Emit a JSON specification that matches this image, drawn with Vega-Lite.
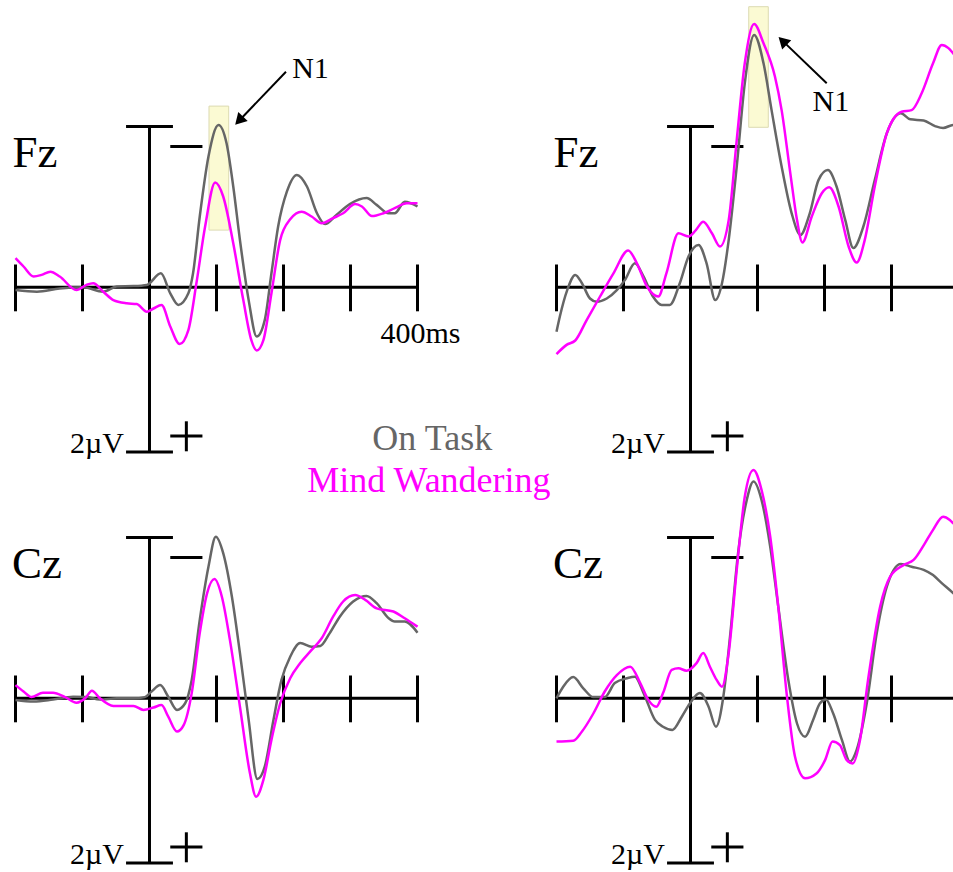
{
"$schema": "https://vega.github.io/schema/vega-lite/v6.json",
"padding": 0,
"background": "white",
"columns": 2,
"spacing": 0,
"bounds": "flush",
"config": {"view": {"stroke": null}, "concat": {"spacing": 0}},
"datasets": {
"frame": [
{"t":-200,"t2":400,"v":0,"v2":0},
{"t":0,"t2":0,"v":-4.02,"v2":4.12},
{"t":-35,"t2":35,"v":-4.02,"v2":-4.02},
{"t":-35,"t2":35,"v":4.12,"v2":4.12},
{"t":-200,"t2":-200,"v":-0.57,"v2":0.6},
{"t":-100,"t2":-100,"v":-0.57,"v2":0.6},
{"t":100,"t2":100,"v":-0.57,"v2":0.6},
{"t":200,"t2":200,"v":-0.57,"v2":0.6},
{"t":300,"t2":300,"v":-0.57,"v2":0.6},
{"t":400,"t2":400,"v":-0.57,"v2":0.6},
{"t":31,"t2":79,"v":-3.52,"v2":-3.52},
{"t":31,"t2":79,"v":3.72,"v2":3.72},
{"t":55,"t2":55,"v":3.35,"v2":4.1}
],
"windows": [
{"panel":"TL","t":88.8,"t2":118.2,"v":-4.53,"v2":-1.43},
{"panel":"TR","t":86.9,"t2":116.1,"v":-7.015,"v2":-4.0}
],
"arrows": [
{"panel":"TL","t":203.7,"v":-5.39,"t2":133.7,"v2":-4.165},
{"panel":"TR","t":203.3,"v":-5.1,"t2":137.5,"v2":-6.16}
],
"labels": [
{"panel":"TL","kind":"electrode","label":"Fz","t":-171,"v":-3.0},
{"panel":"TR","kind":"electrode","label":"Fz","t":-171,"v":-3.0},
{"panel":"BL","kind":"electrode","label":"Cz","t":-168,"v":-3.02},
{"panel":"BR","kind":"electrode","label":"Cz","t":-168,"v":-3.02},
{"panel":"TL","kind":"small","label":"2µV","t":-78.5,"v":4.15},
{"panel":"TR","kind":"small","label":"2µV","t":-78.5,"v":4.15},
{"panel":"BL","kind":"small","label":"2µV","t":-78.5,"v":4.15},
{"panel":"BR","kind":"small","label":"2µV","t":-78.5,"v":4.15},
{"panel":"TL","kind":"small","label":"400ms","t":404.5,"v":1.39},
{"panel":"TL","kind":"small","label":"N1","t":240.3,"v":-5.23},
{"panel":"TR","kind":"small","label":"N1","t":209.4,"v":-4.415},
{"panel":"TL","kind":"legend","label":"On Task","t":422,"v":4.07},
{"panel":"BL","kind":"legend","label":"Mind Wandering","t":417,"v":-5.15}
],
"erp": [
{"panel":"TL","condition":"On Task","t":-200,"v":0.07},{"panel":"TL","condition":"On Task","t":-168,"v":0.11},{"panel":"TL","condition":"On Task","t":-134,"v":0.03},{"panel":"TL","condition":"On Task","t":-99,"v":0},{"panel":"TL","condition":"On Task","t":-69,"v":0.11},{"panel":"TL","condition":"On Task","t":-49,"v":-0.02},{"panel":"TL","condition":"On Task","t":-24,"v":-0.03},{"panel":"TL","condition":"On Task","t":-4,"v":-0.06},{"panel":"TL","condition":"On Task","t":17,"v":-0.35},{"panel":"TL","condition":"On Task","t":31,"v":0.15},{"panel":"TL","condition":"On Task","t":43,"v":0.44},{"panel":"TL","condition":"On Task","t":58,"v":0.15},{"panel":"TL","condition":"On Task","t":65,"v":-0.35},{"panel":"TL","condition":"On Task","t":75,"v":-1.77},{"panel":"TL","condition":"On Task","t":88,"v":-3.27},{"panel":"TL","condition":"On Task","t":103,"v":-4.06},{"panel":"TL","condition":"On Task","t":115,"v":-3.6},{"panel":"TL","condition":"On Task","t":125,"v":-2.52},{"panel":"TL","condition":"On Task","t":135,"v":-1.18},{"panel":"TL","condition":"On Task","t":148,"v":0.32},{"panel":"TL","condition":"On Task","t":160,"v":1.23},{"panel":"TL","condition":"On Task","t":172,"v":0.82},{"panel":"TL","condition":"On Task","t":182,"v":-0.35},{"panel":"TL","condition":"On Task","t":192,"v":-1.52},{"panel":"TL","condition":"On Task","t":205,"v":-2.39},{"panel":"TL","condition":"On Task","t":220,"v":-2.81},{"panel":"TL","condition":"On Task","t":235,"v":-2.52},{"panel":"TL","condition":"On Task","t":250,"v":-1.85},{"panel":"TL","condition":"On Task","t":262,"v":-1.58},{"panel":"TL","condition":"On Task","t":279,"v":-1.81},{"panel":"TL","condition":"On Task","t":299,"v":-2.08},{"panel":"TL","condition":"On Task","t":324,"v":-2.23},{"panel":"TL","condition":"On Task","t":339,"v":-2.06},{"panel":"TL","condition":"On Task","t":357,"v":-1.85},{"panel":"TL","condition":"On Task","t":366,"v":-1.85},{"panel":"TL","condition":"On Task","t":381,"v":-2.14},{"panel":"TL","condition":"On Task","t":400,"v":-2.02},
{"panel":"TL","condition":"Mind Wandering","t":-200,"v":-0.73},{"panel":"TL","condition":"Mind Wandering","t":-188,"v":-0.52},{"panel":"TL","condition":"Mind Wandering","t":-173,"v":-0.27},{"panel":"TL","condition":"Mind Wandering","t":-161,"v":-0.31},{"panel":"TL","condition":"Mind Wandering","t":-148,"v":-0.39},{"panel":"TL","condition":"Mind Wandering","t":-134,"v":-0.27},{"panel":"TL","condition":"Mind Wandering","t":-109,"v":0.07},{"panel":"TL","condition":"Mind Wandering","t":-94,"v":-0.06},{"panel":"TL","condition":"Mind Wandering","t":-84,"v":-0.1},{"panel":"TL","condition":"Mind Wandering","t":-69,"v":0.11},{"panel":"TL","condition":"Mind Wandering","t":-54,"v":0.32},{"panel":"TL","condition":"Mind Wandering","t":-34,"v":0.4},{"panel":"TL","condition":"Mind Wandering","t":-19,"v":0.42},{"panel":"TL","condition":"Mind Wandering","t":-4,"v":0.61},{"panel":"TL","condition":"Mind Wandering","t":6,"v":0.53},{"panel":"TL","condition":"Mind Wandering","t":18,"v":0.44},{"panel":"TL","condition":"Mind Wandering","t":31,"v":0.98},{"panel":"TL","condition":"Mind Wandering","t":45,"v":1.42},{"panel":"TL","condition":"Mind Wandering","t":58,"v":1.07},{"panel":"TL","condition":"Mind Wandering","t":70,"v":-0.1},{"panel":"TL","condition":"Mind Wandering","t":83,"v":-1.52},{"panel":"TL","condition":"Mind Wandering","t":98,"v":-2.62},{"panel":"TL","condition":"Mind Wandering","t":110,"v":-2.27},{"panel":"TL","condition":"Mind Wandering","t":125,"v":-1.1},{"panel":"TL","condition":"Mind Wandering","t":140,"v":0.32},{"panel":"TL","condition":"Mind Wandering","t":152,"v":1.32},{"panel":"TL","condition":"Mind Wandering","t":160,"v":1.58},{"panel":"TL","condition":"Mind Wandering","t":170,"v":1.32},{"panel":"TL","condition":"Mind Wandering","t":182,"v":0.15},{"panel":"TL","condition":"Mind Wandering","t":195,"v":-1.18},{"panel":"TL","condition":"Mind Wandering","t":210,"v":-1.7},{"panel":"TL","condition":"Mind Wandering","t":227,"v":-1.89},{"panel":"TL","condition":"Mind Wandering","t":242,"v":-1.77},{"panel":"TL","condition":"Mind Wandering","t":257,"v":-1.6},{"panel":"TL","condition":"Mind Wandering","t":274,"v":-1.73},{"panel":"TL","condition":"Mind Wandering","t":289,"v":-1.85},{"panel":"TL","condition":"Mind Wandering","t":307,"v":-2.08},{"panel":"TL","condition":"Mind Wandering","t":317,"v":-2.02},{"panel":"TL","condition":"Mind Wandering","t":332,"v":-1.78},{"panel":"TL","condition":"Mind Wandering","t":349,"v":-1.85},{"panel":"TL","condition":"Mind Wandering","t":366,"v":-1.98},{"panel":"TL","condition":"Mind Wandering","t":384,"v":-2.1},{"panel":"TL","condition":"Mind Wandering","t":400,"v":-2.1},
{"panel":"TR","condition":"On Task","t":-200,"v":1.11},{"panel":"TR","condition":"On Task","t":-195,"v":0.73},{"panel":"TR","condition":"On Task","t":-184,"v":0.07},{"panel":"TR","condition":"On Task","t":-172,"v":-0.31},{"panel":"TR","condition":"On Task","t":-162,"v":-0.1},{"panel":"TR","condition":"On Task","t":-150,"v":0.28},{"panel":"TR","condition":"On Task","t":-140,"v":0.36},{"panel":"TR","condition":"On Task","t":-125,"v":0.28},{"panel":"TR","condition":"On Task","t":-110,"v":0.07},{"panel":"TR","condition":"On Task","t":-98,"v":-0.18},{"panel":"TR","condition":"On Task","t":-83,"v":-0.6},{"panel":"TR","condition":"On Task","t":-70,"v":-0.27},{"panel":"TR","condition":"On Task","t":-56,"v":0.23},{"panel":"TR","condition":"On Task","t":-43,"v":0.44},{"panel":"TR","condition":"On Task","t":-31,"v":0.44},{"panel":"TR","condition":"On Task","t":-16,"v":-0.1},{"panel":"TR","condition":"On Task","t":-3,"v":-0.77},{"panel":"TR","condition":"On Task","t":12,"v":-1.06},{"panel":"TR","condition":"On Task","t":24,"v":-0.6},{"panel":"TR","condition":"On Task","t":37,"v":0.32},{"panel":"TR","condition":"On Task","t":47,"v":-0.1},{"panel":"TR","condition":"On Task","t":57,"v":-1.18},{"panel":"TR","condition":"On Task","t":69,"v":-3.02},{"panel":"TR","condition":"On Task","t":81,"v":-5.1},{"panel":"TR","condition":"On Task","t":95,"v":-6.31},{"panel":"TR","condition":"On Task","t":109,"v":-5.6},{"panel":"TR","condition":"On Task","t":121,"v":-4.43},{"panel":"TR","condition":"On Task","t":136,"v":-3.02},{"panel":"TR","condition":"On Task","t":151,"v":-1.85},{"panel":"TR","condition":"On Task","t":164,"v":-1.31},{"panel":"TR","condition":"On Task","t":178,"v":-1.85},{"panel":"TR","condition":"On Task","t":191,"v":-2.68},{"panel":"TR","condition":"On Task","t":205,"v":-2.93},{"panel":"TR","condition":"On Task","t":218,"v":-2.52},{"panel":"TR","condition":"On Task","t":231,"v":-1.68},{"panel":"TR","condition":"On Task","t":243,"v":-0.98},{"panel":"TR","condition":"On Task","t":258,"v":-1.52},{"panel":"TR","condition":"On Task","t":275,"v":-2.68},{"panel":"TR","condition":"On Task","t":293,"v":-3.85},{"panel":"TR","condition":"On Task","t":314,"v":-4.35},{"panel":"TR","condition":"On Task","t":328,"v":-4.2},{"panel":"TR","condition":"On Task","t":348,"v":-4.17},{"panel":"TR","condition":"On Task","t":365,"v":-4.03},{"panel":"TR","condition":"On Task","t":377,"v":-3.98},{"panel":"TR","condition":"On Task","t":392,"v":-4.06},{"panel":"TR","condition":"On Task","t":400,"v":-4.0},
{"panel":"TR","condition":"Mind Wandering","t":-200,"v":1.67},{"panel":"TR","condition":"Mind Wandering","t":-185,"v":1.44},{"panel":"TR","condition":"Mind Wandering","t":-172,"v":1.33},{"panel":"TR","condition":"Mind Wandering","t":-155,"v":0.82},{"panel":"TR","condition":"Mind Wandering","t":-135,"v":0.23},{"panel":"TR","condition":"Mind Wandering","t":-115,"v":-0.35},{"panel":"TR","condition":"Mind Wandering","t":-93,"v":-0.92},{"panel":"TR","condition":"Mind Wandering","t":-80,"v":-0.6},{"panel":"TR","condition":"Mind Wandering","t":-65,"v":-0.02},{"panel":"TR","condition":"Mind Wandering","t":-48,"v":0.23},{"panel":"TR","condition":"Mind Wandering","t":-36,"v":-0.35},{"panel":"TR","condition":"Mind Wandering","t":-18,"v":-1.35},{"panel":"TR","condition":"Mind Wandering","t":-3,"v":-1.27},{"panel":"TR","condition":"Mind Wandering","t":8,"v":-1.43},{"panel":"TR","condition":"Mind Wandering","t":19,"v":-1.64},{"panel":"TR","condition":"Mind Wandering","t":32,"v":-1.35},{"panel":"TR","condition":"Mind Wandering","t":44,"v":-1.02},{"panel":"TR","condition":"Mind Wandering","t":57,"v":-1.68},{"panel":"TR","condition":"Mind Wandering","t":69,"v":-3.68},{"panel":"TR","condition":"Mind Wandering","t":81,"v":-5.6},{"panel":"TR","condition":"Mind Wandering","t":95,"v":-6.58},{"panel":"TR","condition":"Mind Wandering","t":109,"v":-6.1},{"panel":"TR","condition":"Mind Wandering","t":126,"v":-5.27},{"panel":"TR","condition":"Mind Wandering","t":136,"v":-4.43},{"panel":"TR","condition":"Mind Wandering","t":149,"v":-2.85},{"panel":"TR","condition":"Mind Wandering","t":159,"v":-1.68},{"panel":"TR","condition":"Mind Wandering","t":167,"v":-1.12},{"panel":"TR","condition":"Mind Wandering","t":181,"v":-1.77},{"panel":"TR","condition":"Mind Wandering","t":196,"v":-2.35},{"panel":"TR","condition":"Mind Wandering","t":207,"v":-2.5},{"panel":"TR","condition":"Mind Wandering","t":221,"v":-2.02},{"panel":"TR","condition":"Mind Wandering","t":236,"v":-1.02},{"panel":"TR","condition":"Mind Wandering","t":248,"v":-0.62},{"panel":"TR","condition":"Mind Wandering","t":260,"v":-1.18},{"panel":"TR","condition":"Mind Wandering","t":275,"v":-2.52},{"panel":"TR","condition":"Mind Wandering","t":293,"v":-3.85},{"panel":"TR","condition":"Mind Wandering","t":315,"v":-4.39},{"panel":"TR","condition":"Mind Wandering","t":330,"v":-4.43},{"panel":"TR","condition":"Mind Wandering","t":345,"v":-4.85},{"panel":"TR","condition":"Mind Wandering","t":362,"v":-5.6},{"panel":"TR","condition":"Mind Wandering","t":375,"v":-6.06},{"panel":"TR","condition":"Mind Wandering","t":385,"v":-5.98},{"panel":"TR","condition":"Mind Wandering","t":392,"v":-5.85},{"panel":"TR","condition":"Mind Wandering","t":400,"v":-5.7},
{"panel":"BL","condition":"On Task","t":-200,"v":0.04},{"panel":"BL","condition":"On Task","t":-173,"v":0.08},{"panel":"BL","condition":"On Task","t":-144,"v":0.03},{"panel":"BL","condition":"On Task","t":-114,"v":-0.04},{"panel":"BL","condition":"On Task","t":-94,"v":-0.03},{"panel":"BL","condition":"On Task","t":-74,"v":0.03},{"panel":"BL","condition":"On Task","t":-49,"v":0},{"panel":"BL","condition":"On Task","t":-24,"v":0},{"panel":"BL","condition":"On Task","t":-7,"v":-0.03},{"panel":"BL","condition":"On Task","t":3,"v":-0.17},{"panel":"BL","condition":"On Task","t":16,"v":-0.33},{"panel":"BL","condition":"On Task","t":28,"v":-0.04},{"panel":"BL","condition":"On Task","t":41,"v":0.29},{"panel":"BL","condition":"On Task","t":53,"v":0.13},{"panel":"BL","condition":"On Task","t":63,"v":-0.46},{"panel":"BL","condition":"On Task","t":75,"v":-1.96},{"panel":"BL","condition":"On Task","t":88,"v":-3.29},{"panel":"BL","condition":"On Task","t":99,"v":-4.04},{"panel":"BL","condition":"On Task","t":110,"v":-3.63},{"panel":"BL","condition":"On Task","t":123,"v":-2.54},{"panel":"BL","condition":"On Task","t":135,"v":-1.13},{"panel":"BL","condition":"On Task","t":148,"v":0.54},{"panel":"BL","condition":"On Task","t":161,"v":2.02},{"panel":"BL","condition":"On Task","t":172,"v":1.71},{"panel":"BL","condition":"On Task","t":185,"v":0.54},{"panel":"BL","condition":"On Task","t":197,"v":-0.46},{"panel":"BL","condition":"On Task","t":210,"v":-1.04},{"panel":"BL","condition":"On Task","t":225,"v":-1.38},{"panel":"BL","condition":"On Task","t":242,"v":-1.29},{"panel":"BL","condition":"On Task","t":255,"v":-1.31},{"panel":"BL","condition":"On Task","t":269,"v":-1.63},{"panel":"BL","condition":"On Task","t":284,"v":-2.04},{"panel":"BL","condition":"On Task","t":304,"v":-2.42},{"panel":"BL","condition":"On Task","t":324,"v":-2.56},{"panel":"BL","condition":"On Task","t":339,"v":-2.38},{"panel":"BL","condition":"On Task","t":357,"v":-2.0},{"panel":"BL","condition":"On Task","t":366,"v":-1.92},{"panel":"BL","condition":"On Task","t":381,"v":-1.92},{"panel":"BL","condition":"On Task","t":400,"v":-1.64},
{"panel":"BL","condition":"Mind Wandering","t":-200,"v":-0.33},{"panel":"BL","condition":"Mind Wandering","t":-188,"v":-0.17},{"panel":"BL","condition":"Mind Wandering","t":-176,"v":-0.03},{"panel":"BL","condition":"Mind Wandering","t":-159,"v":-0.14},{"panel":"BL","condition":"Mind Wandering","t":-144,"v":-0.14},{"panel":"BL","condition":"Mind Wandering","t":-126,"v":-0.03},{"panel":"BL","condition":"Mind Wandering","t":-109,"v":0.11},{"panel":"BL","condition":"Mind Wandering","t":-96,"v":0},{"panel":"BL","condition":"Mind Wandering","t":-86,"v":-0.19},{"panel":"BL","condition":"Mind Wandering","t":-74,"v":0},{"panel":"BL","condition":"Mind Wandering","t":-54,"v":0.19},{"panel":"BL","condition":"Mind Wandering","t":-24,"v":0.19},{"panel":"BL","condition":"Mind Wandering","t":-9,"v":0.29},{"panel":"BL","condition":"Mind Wandering","t":6,"v":0.23},{"panel":"BL","condition":"Mind Wandering","t":18,"v":0.17},{"panel":"BL","condition":"Mind Wandering","t":28,"v":0.46},{"panel":"BL","condition":"Mind Wandering","t":41,"v":0.83},{"panel":"BL","condition":"Mind Wandering","t":51,"v":0.67},{"panel":"BL","condition":"Mind Wandering","t":63,"v":-0.13},{"panel":"BL","condition":"Mind Wandering","t":75,"v":-1.63},{"panel":"BL","condition":"Mind Wandering","t":86,"v":-2.63},{"panel":"BL","condition":"Mind Wandering","t":97,"v":-2.98},{"panel":"BL","condition":"Mind Wandering","t":108,"v":-2.54},{"panel":"BL","condition":"Mind Wandering","t":120,"v":-1.46},{"panel":"BL","condition":"Mind Wandering","t":135,"v":0.21},{"panel":"BL","condition":"Mind Wandering","t":150,"v":1.88},{"panel":"BL","condition":"Mind Wandering","t":159,"v":2.46},{"panel":"BL","condition":"Mind Wandering","t":170,"v":2.04},{"panel":"BL","condition":"Mind Wandering","t":182,"v":1.04},{"panel":"BL","condition":"Mind Wandering","t":195,"v":0.13},{"panel":"BL","condition":"Mind Wandering","t":210,"v":-0.5},{"panel":"BL","condition":"Mind Wandering","t":225,"v":-0.88},{"panel":"BL","condition":"Mind Wandering","t":242,"v":-1.21},{"panel":"BL","condition":"Mind Wandering","t":257,"v":-1.5},{"panel":"BL","condition":"Mind Wandering","t":274,"v":-2.04},{"panel":"BL","condition":"Mind Wandering","t":289,"v":-2.42},{"panel":"BL","condition":"Mind Wandering","t":307,"v":-2.58},{"panel":"BL","condition":"Mind Wandering","t":322,"v":-2.46},{"panel":"BL","condition":"Mind Wandering","t":339,"v":-2.25},{"panel":"BL","condition":"Mind Wandering","t":364,"v":-2.17},{"panel":"BL","condition":"Mind Wandering","t":381,"v":-2.0},{"panel":"BL","condition":"Mind Wandering","t":400,"v":-1.79},
{"panel":"BR","condition":"On Task","t":-200,"v":0},{"panel":"BR","condition":"On Task","t":-190,"v":-0.29},{"panel":"BR","condition":"On Task","t":-175,"v":-0.53},{"panel":"BR","condition":"On Task","t":-160,"v":-0.25},{"panel":"BR","condition":"On Task","t":-145,"v":-0.03},{"panel":"BR","condition":"On Task","t":-128,"v":-0.03},{"panel":"BR","condition":"On Task","t":-113,"v":-0.38},{"panel":"BR","condition":"On Task","t":-95,"v":-0.5},{"panel":"BR","condition":"On Task","t":-83,"v":-0.54},{"panel":"BR","condition":"On Task","t":-70,"v":-0.13},{"panel":"BR","condition":"On Task","t":-53,"v":0.54},{"panel":"BR","condition":"On Task","t":-41,"v":0.71},{"panel":"BR","condition":"On Task","t":-27,"v":0.79},{"panel":"BR","condition":"On Task","t":-13,"v":0.46},{"panel":"BR","condition":"On Task","t":-1,"v":0.13},{"panel":"BR","condition":"On Task","t":14,"v":-0.13},{"panel":"BR","condition":"On Task","t":27,"v":0.21},{"panel":"BR","condition":"On Task","t":38,"v":0.71},{"panel":"BR","condition":"On Task","t":49,"v":-0.04},{"panel":"BR","condition":"On Task","t":59,"v":-1.54},{"panel":"BR","condition":"On Task","t":71,"v":-3.63},{"panel":"BR","condition":"On Task","t":84,"v":-4.96},{"panel":"BR","condition":"On Task","t":94,"v":-5.42},{"panel":"BR","condition":"On Task","t":106,"v":-4.96},{"panel":"BR","condition":"On Task","t":119,"v":-3.79},{"panel":"BR","condition":"On Task","t":131,"v":-2.29},{"panel":"BR","condition":"On Task","t":146,"v":-0.46},{"panel":"BR","condition":"On Task","t":159,"v":0.63},{"panel":"BR","condition":"On Task","t":171,"v":0.96},{"panel":"BR","condition":"On Task","t":183,"v":0.54},{"panel":"BR","condition":"On Task","t":193,"v":0.13},{"panel":"BR","condition":"On Task","t":202,"v":0.03},{"panel":"BR","condition":"On Task","t":213,"v":0.38},{"panel":"BR","condition":"On Task","t":226,"v":1.04},{"panel":"BR","condition":"On Task","t":238,"v":1.58},{"panel":"BR","condition":"On Task","t":248,"v":1.29},{"panel":"BR","condition":"On Task","t":263,"v":0.13},{"panel":"BR","condition":"On Task","t":278,"v":-1.63},{"panel":"BR","condition":"On Task","t":293,"v":-2.79},{"panel":"BR","condition":"On Task","t":314,"v":-3.36},{"panel":"BR","condition":"On Task","t":330,"v":-3.29},{"panel":"BR","condition":"On Task","t":348,"v":-3.21},{"panel":"BR","condition":"On Task","t":362,"v":-3.08},{"panel":"BR","condition":"On Task","t":375,"v":-2.88},{"panel":"BR","condition":"On Task","t":392,"v":-2.63},{"panel":"BR","condition":"On Task","t":400,"v":-2.5},
{"panel":"BR","condition":"Mind Wandering","t":-200,"v":1.08},{"panel":"BR","condition":"Mind Wandering","t":-175,"v":1.06},{"panel":"BR","condition":"Mind Wandering","t":-162,"v":0.83},{"panel":"BR","condition":"Mind Wandering","t":-145,"v":0.38},{"panel":"BR","condition":"Mind Wandering","t":-128,"v":-0.17},{"panel":"BR","condition":"Mind Wandering","t":-110,"v":-0.58},{"panel":"BR","condition":"Mind Wandering","t":-90,"v":-0.79},{"panel":"BR","condition":"Mind Wandering","t":-75,"v":-0.38},{"panel":"BR","condition":"Mind Wandering","t":-63,"v":0.04},{"panel":"BR","condition":"Mind Wandering","t":-51,"v":0.21},{"panel":"BR","condition":"Mind Wandering","t":-41,"v":-0.13},{"panel":"BR","condition":"Mind Wandering","t":-28,"v":-0.71},{"panel":"BR","condition":"Mind Wandering","t":-18,"v":-0.75},{"panel":"BR","condition":"Mind Wandering","t":-6,"v":-0.69},{"panel":"BR","condition":"Mind Wandering","t":9,"v":-0.88},{"panel":"BR","condition":"Mind Wandering","t":19,"v":-1.13},{"panel":"BR","condition":"Mind Wandering","t":29,"v":-0.79},{"panel":"BR","condition":"Mind Wandering","t":39,"v":-0.46},{"panel":"BR","condition":"Mind Wandering","t":47,"v":-0.29},{"panel":"BR","condition":"Mind Wandering","t":57,"v":-1.13},{"panel":"BR","condition":"Mind Wandering","t":69,"v":-3.21},{"panel":"BR","condition":"Mind Wandering","t":81,"v":-5.04},{"panel":"BR","condition":"Mind Wandering","t":94,"v":-5.71},{"panel":"BR","condition":"Mind Wandering","t":106,"v":-5.21},{"panel":"BR","condition":"Mind Wandering","t":119,"v":-4.04},{"panel":"BR","condition":"Mind Wandering","t":131,"v":-2.29},{"panel":"BR","condition":"Mind Wandering","t":144,"v":-0.04},{"panel":"BR","condition":"Mind Wandering","t":156,"v":1.46},{"panel":"BR","condition":"Mind Wandering","t":171,"v":2.0},{"panel":"BR","condition":"Mind Wandering","t":188,"v":1.88},{"panel":"BR","condition":"Mind Wandering","t":201,"v":1.54},{"panel":"BR","condition":"Mind Wandering","t":212,"v":1.08},{"panel":"BR","condition":"Mind Wandering","t":223,"v":1.17},{"panel":"BR","condition":"Mind Wandering","t":233,"v":1.54},{"panel":"BR","condition":"Mind Wandering","t":242,"v":1.63},{"panel":"BR","condition":"Mind Wandering","t":253,"v":1.04},{"panel":"BR","condition":"Mind Wandering","t":265,"v":-0.46},{"panel":"BR","condition":"Mind Wandering","t":283,"v":-2.29},{"panel":"BR","condition":"Mind Wandering","t":298,"v":-3.04},{"panel":"BR","condition":"Mind Wandering","t":318,"v":-3.33},{"panel":"BR","condition":"Mind Wandering","t":333,"v":-3.46},{"panel":"BR","condition":"Mind Wandering","t":350,"v":-3.88},{"panel":"BR","condition":"Mind Wandering","t":362,"v":-4.21},{"panel":"BR","condition":"Mind Wandering","t":377,"v":-4.54},{"panel":"BR","condition":"Mind Wandering","t":387,"v":-4.46},{"panel":"BR","condition":"Mind Wandering","t":392,"v":-4.38},{"panel":"BR","condition":"Mind Wandering","t":400,"v":-4.25}
]
},
"concat": [
{"width": 480, "height": 464,
 "encoding": {"x": {"field": "t", "type": "quantitative", "scale": {"domain": [-223.13, 493.28], "nice": false, "zero": false}, "axis": null},
              "y": {"field": "v", "type": "quantitative", "scale": {"domain": [-7.1825, 4.4175], "reverse": true, "nice": false, "zero": false}, "axis": null}},
 "layer": [
  {"data": {"name": "windows"}, "transform": [{"filter": "datum.panel === 'TL'"}], "mark": {"type": "rect", "fill": "#FBFAD3", "stroke": "#DCDAB2", "strokeWidth": 1}, "encoding": {"x2": {"field": "t2"}, "y2": {"field": "v2"}}},
  {"data": {"name": "frame"}, "mark": {"type": "rule", "color": "black", "strokeWidth": 3, "clip": true}, "encoding": {"x2": {"field": "t2"}, "y2": {"field": "v2"}}},
  {"data": {"name": "erp"}, "transform": [{"filter": "datum.panel === 'TL'"}], "mark": {"type": "line", "strokeWidth": 2.5, "interpolate": "monotone", "clip": true}, "encoding": {"color": {"field": "condition", "type": "nominal", "scale": {"domain": ["On Task", "Mind Wandering"], "range": ["#666666", "#FF00FF"]}, "legend": null}}},
  {"data": {"name": "arrows"}, "transform": [{"filter": "datum.panel === 'TL'"}], "mark": {"type": "rule", "color": "black", "strokeWidth": 2}, "encoding": {"x2": {"field": "t2"}, "y2": {"field": "v2"}}},
  {"data": {"name": "arrows"}, "transform": [{"filter": "datum.panel === 'TL'"}], "mark": {"type": "point", "shape": "triangle-up", "filled": true, "color": "black", "opacity": 1, "size": 170, "angle": 223.7}, "encoding": {"x": {"field": "t2", "type": "quantitative"}, "y": {"field": "v2", "type": "quantitative"}}},
  {"data": {"name": "labels"}, "transform": [{"filter": "datum.panel === 'TL' && datum.kind === 'electrode'"}], "mark": {"type": "text", "font": "Liberation Serif", "fontSize": 45, "color": "black", "align": "center", "baseline": "alphabetic"}, "encoding": {"text": {"field": "label"}}},
  {"data": {"name": "labels"}, "transform": [{"filter": "datum.panel === 'TL' && datum.kind === 'small'"}], "mark": {"type": "text", "font": "Liberation Serif", "fontSize": 30, "color": "black", "align": "center", "baseline": "alphabetic"}, "encoding": {"text": {"field": "label"}}},
  {"data": {"name": "labels"}, "transform": [{"filter": "datum.panel === 'TL' && datum.kind === 'legend'"}], "mark": {"type": "text", "font": "Liberation Serif", "fontSize": 36, "color": "#666666", "align": "center", "baseline": "alphabetic"}, "encoding": {"text": {"field": "label"}}}
 ]},
{"width": 473, "height": 464,
 "encoding": {"x": {"field": "t", "type": "quantitative", "scale": {"domain": [-314.18, 391.79], "nice": false, "zero": false}, "axis": null},
              "y": {"field": "v", "type": "quantitative", "scale": {"domain": [-7.1825, 4.4175], "reverse": true, "nice": false, "zero": false}, "axis": null}},
 "layer": [
  {"data": {"name": "windows"}, "transform": [{"filter": "datum.panel === 'TR'"}], "mark": {"type": "rect", "fill": "#FBFAD3", "stroke": "#DCDAB2", "strokeWidth": 1}, "encoding": {"x2": {"field": "t2"}, "y2": {"field": "v2"}}},
  {"data": {"name": "frame"}, "mark": {"type": "rule", "color": "black", "strokeWidth": 3, "clip": true}, "encoding": {"x2": {"field": "t2"}, "y2": {"field": "v2"}}},
  {"data": {"name": "erp"}, "transform": [{"filter": "datum.panel === 'TR'"}], "mark": {"type": "line", "strokeWidth": 2.5, "interpolate": "monotone", "clip": true}, "encoding": {"color": {"field": "condition", "type": "nominal", "scale": {"domain": ["On Task", "Mind Wandering"], "range": ["#666666", "#FF00FF"]}, "legend": null}}},
  {"data": {"name": "arrows"}, "transform": [{"filter": "datum.panel === 'TR'"}], "mark": {"type": "rule", "color": "black", "strokeWidth": 2}, "encoding": {"x2": {"field": "t2"}, "y2": {"field": "v2"}}},
  {"data": {"name": "arrows"}, "transform": [{"filter": "datum.panel === 'TR'"}], "mark": {"type": "point", "shape": "triangle-up", "filled": true, "color": "black", "opacity": 1, "size": 170, "angle": 314}, "encoding": {"x": {"field": "t2", "type": "quantitative"}, "y": {"field": "v2", "type": "quantitative"}}},
  {"data": {"name": "labels"}, "transform": [{"filter": "datum.panel === 'TR' && datum.kind === 'electrode'"}], "mark": {"type": "text", "font": "Liberation Serif", "fontSize": 45, "color": "black", "align": "center", "baseline": "alphabetic"}, "encoding": {"text": {"field": "label"}}},
  {"data": {"name": "labels"}, "transform": [{"filter": "datum.panel === 'TR' && datum.kind === 'small'"}], "mark": {"type": "text", "font": "Liberation Serif", "fontSize": 30, "color": "black", "align": "center", "baseline": "alphabetic"}, "encoding": {"text": {"field": "label"}}}
 ]},
{"width": 480, "height": 408,
 "encoding": {"x": {"field": "t", "type": "quantitative", "scale": {"domain": [-223.13, 493.28], "nice": false, "zero": false}, "axis": null},
              "y": {"field": "v", "type": "quantitative", "scale": {"domain": [-5.8575, 4.3425], "reverse": true, "nice": false, "zero": false}, "axis": null}},
 "layer": [
  {"data": {"name": "frame"}, "mark": {"type": "rule", "color": "black", "strokeWidth": 3, "clip": true}, "encoding": {"x2": {"field": "t2"}, "y2": {"field": "v2"}}},
  {"data": {"name": "erp"}, "transform": [{"filter": "datum.panel === 'BL'"}], "mark": {"type": "line", "strokeWidth": 2.5, "interpolate": "monotone", "clip": true}, "encoding": {"color": {"field": "condition", "type": "nominal", "scale": {"domain": ["On Task", "Mind Wandering"], "range": ["#666666", "#FF00FF"]}, "legend": null}}},
  {"data": {"name": "labels"}, "transform": [{"filter": "datum.panel === 'BL' && datum.kind === 'electrode'"}], "mark": {"type": "text", "font": "Liberation Serif", "fontSize": 45, "color": "black", "align": "center", "baseline": "alphabetic"}, "encoding": {"text": {"field": "label"}}},
  {"data": {"name": "labels"}, "transform": [{"filter": "datum.panel === 'BL' && datum.kind === 'small'"}], "mark": {"type": "text", "font": "Liberation Serif", "fontSize": 30, "color": "black", "align": "center", "baseline": "alphabetic"}, "encoding": {"text": {"field": "label"}}},
  {"data": {"name": "labels"}, "transform": [{"filter": "datum.panel === 'BL' && datum.kind === 'legend'"}], "mark": {"type": "text", "font": "Liberation Serif", "fontSize": 36, "color": "#FF00FF", "align": "center", "baseline": "alphabetic"}, "encoding": {"text": {"field": "label"}}}
 ]},
{"width": 473, "height": 408,
 "encoding": {"x": {"field": "t", "type": "quantitative", "scale": {"domain": [-314.18, 391.79], "nice": false, "zero": false}, "axis": null},
              "y": {"field": "v", "type": "quantitative", "scale": {"domain": [-5.8575, 4.3425], "reverse": true, "nice": false, "zero": false}, "axis": null}},
 "layer": [
  {"data": {"name": "frame"}, "mark": {"type": "rule", "color": "black", "strokeWidth": 3, "clip": true}, "encoding": {"x2": {"field": "t2"}, "y2": {"field": "v2"}}},
  {"data": {"name": "erp"}, "transform": [{"filter": "datum.panel === 'BR'"}], "mark": {"type": "line", "strokeWidth": 2.5, "interpolate": "monotone", "clip": true}, "encoding": {"color": {"field": "condition", "type": "nominal", "scale": {"domain": ["On Task", "Mind Wandering"], "range": ["#666666", "#FF00FF"]}, "legend": null}}},
  {"data": {"name": "labels"}, "transform": [{"filter": "datum.panel === 'BR' && datum.kind === 'electrode'"}], "mark": {"type": "text", "font": "Liberation Serif", "fontSize": 45, "color": "black", "align": "center", "baseline": "alphabetic"}, "encoding": {"text": {"field": "label"}}},
  {"data": {"name": "labels"}, "transform": [{"filter": "datum.panel === 'BR' && datum.kind === 'small'"}], "mark": {"type": "text", "font": "Liberation Serif", "fontSize": 30, "color": "black", "align": "center", "baseline": "alphabetic"}, "encoding": {"text": {"field": "label"}}}
 ]}
]
}
